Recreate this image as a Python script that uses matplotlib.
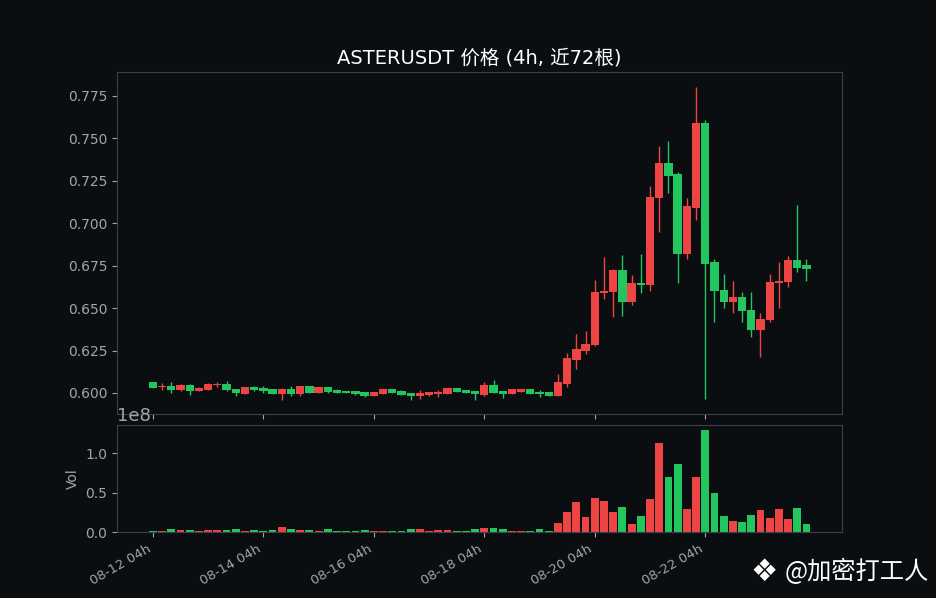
import matplotlib
matplotlib.use("Agg")
import matplotlib.pyplot as plt
import numpy as np
import pandas as pd

# ASTERUSDT 4h candles (72 bars)
times = pd.date_range("2025-08-12 04:00", periods=72, freq="4h")
opens = [0.6065, 0.6038, 0.6041, 0.6020, 0.6047, 0.6014, 0.6020, 0.6046, 0.6053, 0.6022,
         0.5996, 0.6035, 0.6028, 0.6022, 0.5996, 0.6022, 0.5996, 0.6040, 0.6002, 0.6035,
         0.6018, 0.6012, 0.6010, 0.6004, 0.5984, 0.5996, 0.6024, 0.6012, 0.6000, 0.5984,
         0.5988, 0.5992, 0.5996, 0.6030, 0.6018, 0.6012, 0.5986, 0.6047, 0.6012, 0.5996,
         0.6006, 0.6024, 0.6006, 0.6006, 0.5982, 0.6055, 0.6197, 0.6250, 0.6280, 0.6587,
         0.6593, 0.6727, 0.6534, 0.6646, 0.6635, 0.7149, 0.7354, 0.7289, 0.6818, 0.7090,
         0.7591, 0.6769, 0.6609, 0.6534, 0.6568, 0.6491, 0.6368, 0.6432, 0.6650, 0.6652,
         0.6781, 0.6751]
highs = [0.6067, 0.6058, 0.6065, 0.6050, 0.6050, 0.6036, 0.6058, 0.6062, 0.6070, 0.6024,
         0.6037, 0.6041, 0.6041, 0.6024, 0.6032, 0.6041, 0.6042, 0.6042, 0.6037, 0.6037,
         0.6024, 0.6014, 0.6012, 0.6006, 0.6006, 0.6024, 0.6026, 0.6018, 0.6002, 0.6020,
         0.6008, 0.6018, 0.6032, 0.6032, 0.6020, 0.6014, 0.6065, 0.6079, 0.6014, 0.6026,
         0.6026, 0.6026, 0.6018, 0.6008, 0.6112, 0.6237, 0.6349, 0.6367, 0.6668, 0.6798,
         0.6733, 0.6810, 0.6692, 0.6816, 0.7218, 0.7455, 0.7484, 0.7301, 0.7147, 0.7805,
         0.7609, 0.6792, 0.6698, 0.6662, 0.6597, 0.6597, 0.6469, 0.6698, 0.6769, 0.6804,
         0.7106, 0.6792]
lows = [0.6028, 0.6020, 0.6002, 0.6009, 0.5990, 0.6010, 0.6018, 0.6036, 0.6014, 0.5984,
        0.5994, 0.6012, 0.6002, 0.5994, 0.5960, 0.5984, 0.5984, 0.6000, 0.6000, 0.5998,
        0.6000, 0.5998, 0.5990, 0.5976, 0.5980, 0.5994, 0.5998, 0.5986, 0.5959, 0.5966,
        0.5982, 0.5976, 0.5994, 0.6004, 0.6000, 0.5959, 0.5984, 0.5998, 0.5972, 0.5994,
        0.6004, 0.5992, 0.5976, 0.5980, 0.5980, 0.6037, 0.6144, 0.6232, 0.6278, 0.6552,
        0.6445, 0.6451, 0.6520, 0.6587, 0.6603, 0.6946, 0.7179, 0.6650, 0.6787, 0.7017,
        0.5965, 0.6420, 0.6503, 0.6469, 0.6420, 0.6327, 0.6209, 0.6416, 0.6499, 0.6627,
        0.6710, 0.6662]
closes = [0.6031, 0.6041, 0.6020, 0.6047, 0.6014, 0.6030, 0.6053, 0.6051, 0.6016, 0.5998,
          0.6035, 0.6020, 0.6014, 0.5996, 0.6022, 0.5994, 0.6040, 0.6002, 0.6035, 0.6008,
          0.6002, 0.6000, 0.5994, 0.5984, 0.6004, 0.6022, 0.6000, 0.5988, 0.5984, 0.6000,
          0.6006, 0.6006, 0.6030, 0.6006, 0.6002, 0.5994, 0.6047, 0.6000, 0.5994, 0.6024,
          0.6024, 0.5994, 0.5994, 0.5982, 0.6065, 0.6207, 0.6260, 0.6290, 0.6597, 0.6603,
          0.6727, 0.6534, 0.6646, 0.6635, 0.7153, 0.7354, 0.7279, 0.6818, 0.7100, 0.7591,
          0.6759, 0.6599, 0.6534, 0.6568, 0.6481, 0.6368, 0.6438, 0.6656, 0.6662, 0.6781,
          0.6739, 0.6733]
# volume in millions
volume_m = [1.3, 1.2, 3.8, 2.5, 2.5, 1.3, 2.5, 2.5, 2.5, 3.8,
            1.3, 2.5, 1.3, 2.5, 6.3, 3.8, 2.5, 2.5, 1.3, 3.8,
            1.3, 1.3, 1.3, 2.5, 1.3, 1.3, 1.3, 1.3, 3.8, 3.8,
            1.3, 2.5, 2.5, 1.3, 1.3, 3.8, 5.1, 5.1, 3.8, 1.3,
            1.3, 1.3, 3.8, 1.3, 11.4, 25.3, 38.0, 19.0, 43.0, 39.2,
            25.3, 31.6, 10.1, 20.3, 41.8, 112.7, 69.6, 86.1, 29.1, 69.6,
            129.1, 49.4, 20.3, 13.9, 12.7, 21.5, 27.8, 17.7, 29.1, 16.5,
            30.4, 10.1]

BG = "#0b0e11"
UP = "#ef4444"     # red = rising
DOWN = "#22c55e"   # green = falling
GRID_C = "#3b4048"
TXT = "#a0a5ad"

o = np.array(opens); h = np.array(highs); l = np.array(lows); c = np.array(closes)
vol = np.array(volume_m) * 1e6
x = np.arange(len(o))
colors = [UP if cc >= oo else DOWN for oo, cc in zip(o, c)]

fig, (ax, axv) = plt.subplots(2, 1, figsize=(9.36, 5.98), dpi=100, sharex=True,
                              gridspec_kw={"height_ratios": [3.2, 1], "hspace": 0.05})
fig.patch.set_facecolor(BG)
for a in (ax, axv):
    a.set_facecolor(BG)
    for s in a.spines.values():
        s.set_color(GRID_C)
    a.tick_params(colors=TXT, labelsize=10)

ax.vlines(x, l, h, color=colors, linewidth=1, zorder=2)
ax.bar(x, np.maximum(np.abs(c - o), 0.0004), bottom=np.minimum(o, c), width=0.9,
       color=colors, zorder=3)
ax.set_ylim(0.5876, 0.7892)
ax.set_title("ASTERUSDT 价格 (4h, 近72根)", color="white", fontsize=14,
             family=["DejaVu Sans", "Noto Sans CJK SC"])

axv.bar(x, vol, width=0.85, color=colors)
axv.set_ylabel("Vol", color=TXT, fontsize=10)
axv.yaxis.get_offset_text().set_color(TXT)
axv.yaxis.get_offset_text().set_fontsize(13)

axv.set_xlim(-3.9, len(x) + 2.9)
ticks = x[::12]
axv.set_xticks(ticks)
axv.set_xticklabels([times[i].strftime("%m-%d %Hh") for i in ticks], rotation=30,
                    ha="right", fontsize=9.5)

# watermark
fig.text(0.816, 0.043, "❖", color="white", fontsize=22, ha="center", va="center",
         family="DejaVu Sans")
fig.text(0.992, 0.043, "@加密打工人", color="white", fontsize=17.5, ha="right", va="center",
         family=["Noto Sans CJK SC", "DejaVu Sans"])

plt.savefig("out.png", dpi=100, facecolor=BG)
